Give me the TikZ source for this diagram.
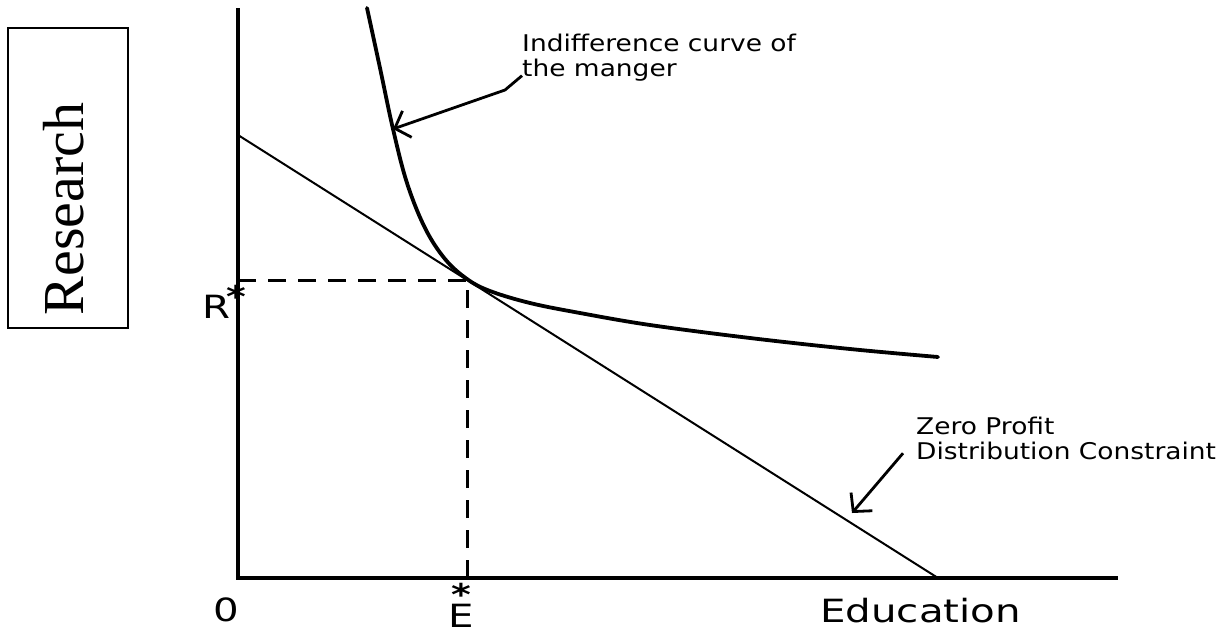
\documentclass[tikz,border=0pt]{standalone}
\usepackage{fontspec}
\newfontfamily\boxfont{Liberation Serif}
\newfontfamily\lblfont[FakeStretch=1.15]{DejaVu Sans}
\newfontfamily\widefont[FakeStretch=1.26]{DejaVu Sans}
\usetikzlibrary{arrows.meta}

\begin{document}
\begin{tikzpicture}[x=1pt, y=-1pt,
  axis/.style={line width=3.4pt, line join=miter},
  guide/.style={line width=3pt, dash pattern=on 18pt off 12pt},
  icurve/.style={line width=3.8pt, line cap=round},
  budget/.style={line width=2pt},
  callout/.style={line width=2.8pt,
                  -{Straight Barb[length=13pt, width=28pt, line width=2.8pt]}},
  big/.style={font=\widefont\fontsize{32}{34}\selectfont, inner sep=0pt},
  small/.style={font=\lblfont\fontsize{23}{25}\selectfont, inner sep=0pt, align=left}]
\useasboundingbox (0,0) rectangle (1225,630);
% axes
\coordinate (o)    at (238,578);
\coordinate (ytop) at (238,8);
\coordinate (xend) at (1118,578);
\draw[axis] (ytop) -- (o) -- (xend);
% axis titles
\node[draw, line width=1.6pt, rotate=90, inner sep=0pt,
      minimum width=300pt, minimum height=120pt,
      font=\boxfont\fontsize{58}{60}\selectfont] (research) at (68,178)
      {\rule[-45pt]{0pt}{120pt}Research\hspace*{62pt}};
\node[big, anchor=base west] (educ) at (820,622) {Education};
\node[big, anchor=base] (zero) at (226,621) {0};
% budget line and indifference curve
\coordinate (bl)  at (238,135);
\coordinate (br)  at (938,578);
\coordinate (opt) at (467,280);
\draw[budget] (bl) -- (br);
\draw[icurve] plot[smooth, tension=0.6] coordinates {
  (367,8) (380,68) (393,129) (407,183) (425,228) (445,259) (467,279)
  (490,291) (530,303) (580,313) (650,325) (750,338) (850,349) (938,357)};
% optimum
\coordinate (ropt) at (238,280);
\coordinate (eopt) at (467,578);
\draw[guide] (ropt) -- (opt);
\draw[guide] (eopt) -- (opt);
\node[big, anchor=base east] (rlab) at (231,318) {R};
\node[big, anchor=base, font=\widefont\bfseries\fontsize{30}{32}\selectfont] (rstar) at (236,307) {*};
\node[big, anchor=base] (elab) at (461,627) {E};
\node[big, anchor=base, font=\widefont\bfseries\fontsize{30}{32}\selectfont] (estar) at (461,605) {*};
% callouts
\node[small, anchor=north west] (iclab) at (522,34) {Indifference curve of\\the manger};
\node[small, anchor=north west] (zplab) at (916,417) {Zero Profit\\Distribution Constraint};
\coordinate (icbend) at (505,90);
\coordinate (ictip)  at (393,129);
\coordinate (zptip)  at (852,513);
\draw[callout] ([shift={(0,-6)}]iclab.south west) -- (icbend) -- (ictip);
\draw[callout] ([shift={(-13,-7)}]zplab.south west) -- (zptip);
\end{tikzpicture}
\end{document}
